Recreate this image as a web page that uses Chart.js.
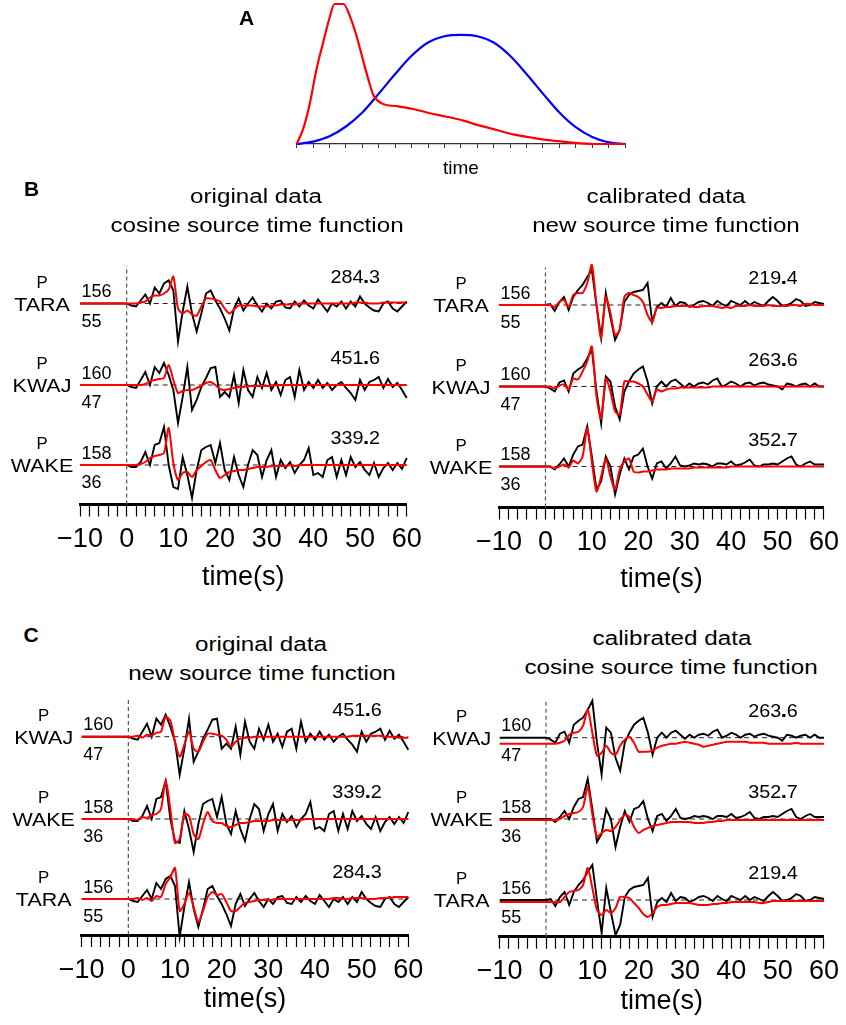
<!DOCTYPE html>
<html>
<head>
<meta charset="utf-8">
<title>Source time function and P waveform fits</title>
<script src="https://cdn.jsdelivr.net/npm/chart.js@4.4.1/dist/chart.umd.min.js"></script>
<style>
  html, body { margin:0; padding:0; background:#fff; }
  #page { position:relative; width:846px; height:1025px; overflow:hidden; background:#fff;
          font-family:"Liberation Sans", Arial, Helvetica, sans-serif; color:#000; }
  #page canvas { position:absolute; }
  .lbl { position:absolute; width:600px; text-align:center; white-space:nowrap; transform-origin:50% 0; }
</style>
</head>
<body>
<div id="page"></div>
<script>
// ---------------- DATA ----------------
// Panel A: source time functions (arbitrary time units 0..20, normalised amplitude)
const stfNewTimes = [0,0.4,0.8,1.2,1.6,2.0,2.3,2.85,3.25,3.65,4.06,4.37,4.67,5.18,6.09,7.1,8.12,9.14,10.15,11.17,12.18,13.2,14.2,15.2,16.2,17.3,18.3,20];
const stfNew      = [0,0.11,0.29,0.53,0.72,0.90,1.0,1.0,0.91,0.77,0.59,0.46,0.35,0.29,0.27,0.25,0.22,0.195,0.167,0.131,0.10,0.069,0.048,0.029,0.017,0.005,0,0];
const stfCosTimes = [0,1,2,3,4,5,6,7,8,9,10,11,12,13,14,15,16,17,18,19,20];
const stfCos      = [0,0.017,0.055,0.125,0.225,0.36,0.5,0.63,0.725,0.77,0.78,0.77,0.725,0.63,0.5,0.36,0.225,0.12,0.05,0.012,0];

// Waveforms: samples at t = 0..60 s (1 s step); trace is flat from -10 s to 0 s
const stations = ['TARA','KWAJ','WAKE'];
const upperNumbers = { TARA:'156', KWAJ:'160', WAKE:'158' };
const lowerNumbers = { TARA:'55',  KWAJ:'47',  WAKE:'36'  };
const ampOriginal   = { TARA:'284.3', KWAJ:'451.6', WAKE:'339.2' };
const ampCalibrated = { TARA:'219.4', KWAJ:'263.6', WAKE:'352.7' };

// observed, original data
const origTARA = [0,-2,-3,3,9,0,16,10,20,23, 13,-38,-8,17,-10,-28,-10,10,13,3, -5,-15,-27,-5,5,-7,0,6,-2,-8, 0,-5,2,3,-4,-5,2,-3,3,-2, -5,4,-2,-8,0,-3,2,-5,2,-3, 7,0,-4,-7,-8,0,2,-5,-8,-3,2];
const origKWAJ = [0,-2,-3,5,13,0,18,12,22,10, -5,-38,-12,18,-25,-15,-2,7,17,18, -12,-7,-12,10,-18,15,-5,-12,8,-3, 12,-5,3,-10,5,8,-12,15,-5,3, -3,5,-3,2,-5,0,3,-3,-8,-15, 5,-5,3,5,8,-3,6,-2,2,-5,-13];
const origWAKE = [0,-2,-2,3,13,0,20,22,38,0, -22,-24,8,-10,-33,-5,15,18,20,2, 22,-5,-15,8,-10,-22,0,15,10,-12, 5,15,-12,5,-3,3,-8,0,5,17, -10,-8,-12,5,8,-12,5,-10,8,-2, 3,-5,-10,2,-12,-3,2,-5,2,-4,7];
// observed, calibrated data
const calTARA = [0,1,-6,3,8,-5,8,15,20,28, 35,0,-33,12,-12,-35,-25,3,10,13, 14,15,22,-17,-2,2,-2,7,-1,3, 2,-2,0,3,4,2,-1,4,1,-1, 4,2,0,4,0,3,1,-1,4,8, 4,-1,0,2,6,4,-1,0,3,2,1];
const calKWAJ = [0,-2,-5,4,6,-5,13,17,20,28, 37,-5,-37,10,5,-20,-33,-5,5,13, 17,20,5,-17,0,5,0,5,7,3, -1,3,0,3,4,2,6,8,0,2, 5,3,0,3,4,1,3,4,2,1, 0,-3,3,2,0,2,3,0,3,0,0];
const calWAKE = [0,0,-3,2,8,0,12,20,22,40, 10,-23,-15,10,0,-28,-8,8,-3,10, 12,18,0,-12,3,5,-2,3,10,1, 0,1,3,2,3,2,0,3,3,2, 5,1,2,4,7,1,0,2,2,3, 2,5,8,10,2,0,3,5,2,2,2];

// synthetics: cosine STF vs original data (B left)
const synCosOrigTARA = [0,0,0,1,2,6,8,8,10,14, 27,-5,-10,-7,-11,-12,-3,5,5,4, 2,-5,-10,-6,-2,-2,-2,-2,-3,-3, -3,-2,-2,-1,-1,-1,-1,0,0,0, 0,0,0,0,0,0,0,0,0,1, 1,1,0,0,0,1,1,1,1,1,1];
const synCosOrigKWAJ = [0,0,0,0,1,4,5,6,7,20, 5,-8,-6,-5,-5,-3,-1,2,3,0, -4,-5,-4,-3,-2,-2,-1,-1,-1,-1, -1,-1,0,0,0,0,0,0,0,0, 0,0,0,0,0,0,0,0,0,0, 0,0,0,0,0,0,0,0,0,0,0];
const synCosOrigWAKE = [0,0,0,1,3,7,9,10,12,37, 2,-15,-8,-7,-12,-5,-1,3,5,-5, -13,-10,-7,-6,-5,-5,-4,-3,-2,-2, -2,-1,-1,-1,-1,0,-1,0,0,0, 0,0,0,0,0,0,0,0,0,0, 0,0,0,0,0,0,0,0,0,0,0];
// synthetics: new STF vs calibrated data (B right)
const synNewCalTARA = [0,0,-2,3,5,-2,10,12,12,22, 40,0,-33,8,-8,-30,-25,8,12,10, 8,3,-10,-17,-3,-3,-2,-2,-1,-1, -1,-1,-2,-2,-1,-1,-1,-2,-3,-2, -3,-1,-1,-1,0,-1,-1,-1,0,-1, -1,-1,-1,0,0,-1,1,1,0,0,0];
const synNewCalKWAJ = [0,0,-2,1,2,-3,8,7,15,25, 40,-10,-32,8,-5,-25,-28,5,5,5, 3,0,-8,-15,-3,-5,-3,-2,-2,-1, -1,-1,-1,-1,-1,-1,0,0,0,0, 0,0,0,0,0,0,0,0,0,0, 0,0,0,0,0,0,0,0,0,0,0];
const synNewCalWAKE = [0,0,-2,0,2,-1,6,3,10,38, 5,-25,-10,8,-10,-23,-3,5,8,-5, -6,-5,-5,-4,-3,-3,-3,-2,-2,-2, -2,-2,-1,-1,-1,-1,-1,-1,-1,-1, 0,0,0,0,0,0,0,0,0,0, 0,0,0,0,0,0,0,0,0,0,0];
// synthetics: new STF vs original data (C left)
const synNewOrigKWAJ = [0,0,1,-1,2,1,4,5,20,16, -5,-20,-8,5,-12,-15,-5,3,3,2, 1,-3,-10,-5,-2,-1,-1,0,0,0, 0,0,0,0,0,0,0,0,0,0, 0,0,0,0,0,0,0,0,1,1, 1,1,1,1,1,0,0,0,-1,-1,-1];
const synNewOrigWAKE = [0,0,-1,2,1,4,5,10,39,10, -24,-20,5,3,-15,-20,-5,7,-2,-4, -4,-7,-8,-6,-4,-4,-3,-2,-2,-2, -2,-1,-1,-1,-1,-1,-1,-1,0,0, 0,0,0,0,0,0,0,0,0,0, 0,0,0,0,0,0,0,0,0,0,0];
const synNewOrigTARA = [0,0,1,-1,1,-2,3,2,15,22, 31,-12,-5,6,-8,-23,-12,2,7,4, 5,-3,-12,-12,-8,-4,-3,-2,-1,-1, -1,-1,0,0,0,0,0,0,0,0, 0,0,0,0,1,1,0,0,1,1, 1,0,0,0,1,1,1,2,2,2,2];
// synthetics: cosine STF vs calibrated data (C right)
const synCosCalKWAJ = [-6,-6,-6,-5,-3,3,5,6,12,28, 5,-18,-15,-8,-15,-17,-8,-2,1,-5, -14,-14,-14,-13,-10,-8,-7,-6,-6,-5, -4,-5,-6,-7,-9,-8,-7,-6,-5,-4, -4,-4,-4,-4,-5,-5,-5,-5,-6,-6, -6,-6,-6,-6,-5,-6,-6,-6,-6,-6,-6];
const synCosCalWAKE = [-1,-1,-1,0,3,5,6,7,12,32, 5,-18,-14,-11,-12,-8,-1,4,2,-8, -14,-11,-9,-7,-6,-5,-4,-3,-3,-3, -3,-3,-4,-4,-4,-3,-3,-2,-2,-1, -1,-1,-1,-1,-1,-1,-1,-1,-1,-1, -1,-1,-1,-1,-1,-1,-1,-1,-1,-1,-1];
const synCosCalTARA = [-2,-2,-2,-2,3,8,9,10,15,32, 12,-10,-15,-10,-13,-8,3,3,2,-3, -8,-14,-17,-13,-7,-5,-5,-4,-3,-3, -3,-3,-4,-5,-5,-5,-4,-4,-3,-3, -2,-2,-2,-2,-2,-2,-3,-3,-2,-1, -1,-1,-1,-1,-1,-1,-1,-1,-1,-1,-1];

const sampleTimes = []; for (let t = 0; t <= 60; t++) sampleTimes.push(t);
const startTime = -10;

// ---------------- RENDERING ----------------
const FONT = '"Liberation Sans", Arial, Helvetica, sans-serif';
Chart.defaults.font.family = FONT;
Chart.defaults.color = '#000';
const page = document.getElementById('page');

function addText(text, cx, baseline, size, opts) {
  opts = opts || {};
  const d = document.createElement('div');
  d.className = 'lbl';
  d.textContent = text;
  d.style.fontSize = size + 'px';
  d.style.lineHeight = size + 'px';
  d.style.left = (cx - 300) + 'px';
  d.style.top = (baseline - 0.8465 * size) + 'px';
  if (opts.bold) d.style.fontWeight = 'bold';
  if (opts.sx) d.style.transform = 'scaleX(' + opts.sx + ')';
  page.appendChild(d);
}

function makeCanvas(box) {
  const c = document.createElement('canvas');
  c.width = box.width; c.height = box.height;
  c.style.left = box.left + 'px'; c.style.top = box.top + 'px';
  c.style.width = box.width + 'px'; c.style.height = box.height + 'px';
  page.appendChild(c);
  return c;
}

function drawTxt(ctx, text, x, y, size, align, sx, bold) {
  ctx.save();
  ctx.translate(x, y);
  ctx.scale(sx, 1);
  ctx.font = (bold ? 'bold ' : '') + size + 'px ' + FONT;
  ctx.fillStyle = '#000';
  ctx.textAlign = align;
  ctx.textBaseline = 'alphabetic';
  ctx.fillText(text, 0, 0);
  ctx.restore();
}

function drawAmp(ctx, text, cx, y, size, sx) {
  const parts = text.split('.');
  ctx.save();
  ctx.translate(cx, y);
  ctx.scale(sx, 1);
  ctx.fillStyle = '#000';
  ctx.textBaseline = 'alphabetic';
  ctx.textAlign = 'left';
  ctx.font = size + 'px ' + FONT;
  const w1 = ctx.measureText(parts[0]).width;
  const w3 = ctx.measureText(parts[1]).width;
  ctx.font = 'bold ' + size + 'px ' + FONT;
  const w2 = ctx.measureText('.').width;
  let x = -(w1 + w2 + w3) / 2;
  ctx.font = size + 'px ' + FONT;
  ctx.fillText(parts[0], x, 0);
  ctx.font = 'bold ' + (size + 2) + 'px ' + FONT;
  ctx.fillText('.', x + w1 - 0.5, 0);
  ctx.font = size + 'px ' + FONT;
  ctx.fillText(parts[1], x + w1 + w2, 0);
  ctx.restore();
}

function traceData(vals, offset) {
  const pts = [{ x: startTime, y: offset + vals[0] }];
  vals.forEach((v, i) => pts.push({ x: sampleTimes[i], y: offset + v }));
  return pts;
}

function waveChart(box, rows) {
  const cv = makeCanvas(box);
  const datasets = [];
  rows.forEach(r => datasets.push({
    data: traceData(r.red, r.offset), borderColor: '#ff0000', borderWidth: 2,
    pointRadius: 0, tension: 0.25, clip: false
  }));
  rows.forEach(r => datasets.push({
    data: traceData(r.black, r.offset), borderColor: '#000000', borderWidth: 1.9,
    pointRadius: 0, tension: 0, clip: false
  }));
  rows.forEach(r => datasets.push({
    data: [{ x: 0, y: r.offset }, { x: 60, y: r.offset }], borderColor: '#222',
    borderWidth: 1, borderDash: [5, 4], pointRadius: 0, clip: false
  }));
  datasets.push({
    data: [{ x: 0, y: 0 }, { x: 0, y: box.vTop }], borderColor: '#555',
    borderWidth: 1.2, borderDash: [4, 3], pointRadius: 0, clip: false
  });

  const axisH = box.top + box.height - box.chartBottom;
  const labelPlugin = {
    id: 'traceLabels',
    afterDatasetsDraw(chart) {
      const ctx = chart.ctx, xs = chart.scales.x, ys = chart.scales.y;
      const x0 = xs.getPixelForValue(-10);
      rows.forEach(r => {
        const yb = ys.getPixelForValue(r.offset);
        drawTxt(ctx, 'P', x0 - 38, yb - 15.8, 16, 'center', 1.05);
        drawTxt(ctx, r.station, x0 - 38, yb + 7.3, 19, 'center', 1.13);
        drawTxt(ctx, r.upper, x0 + 1.5, yb - 6.5, 18, 'left', 1);
        drawTxt(ctx, r.lower, x0 + 1.5, yb + 23, 18, 'left', 1);
        drawAmp(ctx, r.amp, xs.getPixelForValue(49), yb - 21, 18, 1.1);
      });
    }
  };

  new Chart(cv, {
    type: 'line',
    data: { datasets },
    plugins: [labelPlugin],
    options: {
      responsive: false, animation: false, devicePixelRatio: 1, events: [],
      layout: { padding: {
        left: box.xMinPx - box.left,
        right: box.left + box.width - box.xMaxPx,
        top: box.chartTop - box.top,
        bottom: 0 } },
      plugins: { legend: { display: false }, tooltip: { enabled: false } },
      scales: {
        x: {
          type: 'linear', min: -10, max: 60, position: 'bottom',
          afterFit: s => { s.height = axisH; },
          border: { display: true, color: '#000', width: 3 },
          grid: { display: true, drawOnChartArea: false, drawTicks: true, tickLength: 12, tickWidth: 1.2, tickColor: '#000' },
          ticks: {
            stepSize: 2, autoSkip: false, maxRotation: 0, minRotation: 0, padding: 7,
            color: '#000', font: { size: 27 },
            callback: v => { const n = Math.round(v); return n % 10 === 0 ? (n < 0 ? '\u2212' + Math.abs(n) : String(n)) : ''; }
          },
          title: { display: true, text: 'time(s)', color: '#000', font: { size: 27 }, padding: { top: 0, bottom: 0 } }
        },
        y: { type: 'linear', display: false, min: 0, max: box.chartBottom - box.chartTop }
      }
    }
  });
}

function rowsFor(order, blacks, reds, offsets, amps) {
  return order.map((s, i) => ({
    station: s, black: blacks[s], red: reds[s], offset: offsets[i],
    upper: upperNumbers[s], lower: lowerNumbers[s], amp: amps[s]
  }));
}

const origData = { TARA: origTARA, KWAJ: origKWAJ, WAKE: origWAKE };
const calData  = { TARA: calTARA,  KWAJ: calKWAJ,  WAKE: calWAKE  };
const synBL = { TARA: synCosOrigTARA, KWAJ: synCosOrigKWAJ, WAKE: synCosOrigWAKE };
const synBR = { TARA: synNewCalTARA,  KWAJ: synNewCalKWAJ,  WAKE: synNewCalWAKE  };
const synCL = { TARA: synNewOrigTARA, KWAJ: synNewOrigKWAJ, WAKE: synNewOrigWAKE };
const synCR = { TARA: synCosCalTARA,  KWAJ: synCosCalKWAJ,  WAKE: synCosCalWAKE  };
const orderB = ['TARA', 'KWAJ', 'WAKE'];
const orderC = ['KWAJ', 'WAKE', 'TARA'];

// Panel A
(function () {
  const box = { left: 280, top: 0, width: 360, height: 185 };
  const cv = makeCanvas(box);
  new Chart(cv, {
    type: 'line',
    data: { datasets: [
      { data: stfNewTimes.map((t, i) => ({ x: t, y: stfNew[i] })), borderColor: '#ff0000', borderWidth: 2.2, pointRadius: 0, cubicInterpolationMode: 'monotone', clip: false },
      { data: stfCosTimes.map((t, i) => ({ x: t, y: stfCos[i] })), borderColor: '#0000ff', borderWidth: 2.2, pointRadius: 0, cubicInterpolationMode: 'monotone', clip: false }
    ] },
    options: {
      responsive: false, animation: false, devicePixelRatio: 1, events: [],
      layout: { padding: { left: 16.7, right: 15, top: 4, bottom: 0 } },
      plugins: { legend: { display: false }, tooltip: { enabled: false } },
      scales: {
        x: {
          type: 'linear', min: 0, max: 20,
          afterFit: s => { s.height = 41; },
          border: { display: true, color: '#333', width: 1.2 },
          grid: { display: true, drawOnChartArea: false, drawTicks: true, tickLength: 4, tickWidth: 1, tickColor: '#333' },
          ticks: { stepSize: 1, autoSkip: false, maxRotation: 0, callback: () => '' },
          title: { display: true, text: 'time', color: '#000', font: { size: 19 }, padding: { top: 0, bottom: 5 } }
        },
        y: { type: 'linear', display: false, min: 0, max: 1 }
      }
    }
  });
})();

// Panel B
waveChart({ left: 0, top: 240, width: 440, height: 354, xMinPx: 80, xMaxPx: 406.7, chartTop: 250, chartBottom: 504.5, vTop: 238.5 },
  rowsFor(orderB, origData, synBL, [201, 119.5, 39.5], ampOriginal));
waveChart({ left: 423, top: 240, width: 423, height: 356, xMinPx: 499, xMaxPx: 827, chartTop: 250, chartBottom: 507.5, vTop: 240 },
  rowsFor(orderB, calData, synBR, [202.5, 121, 41], ampCalibrated));
// Panel C
waveChart({ left: 0, top: 685, width: 440, height: 331, xMinPx: 81.7, xMaxPx: 408.3, chartTop: 695, chartBottom: 935, vTop: 237 },
  rowsFor(orderC, origData, synCL, [198.3, 116, 36], ampOriginal));
waveChart({ left: 423, top: 685, width: 423, height: 333, xMinPx: 499.7, xMaxPx: 828, chartTop: 695, chartBottom: 936.7, vTop: 236.7 },
  rowsFor(orderC, calData, synCR, [199, 117.7, 36.7], ampCalibrated));

// Titles and panel letters
addText('A', 246.7, 25, 21, { bold: true });
addText('B', 31.7, 195.5, 21, { bold: true });
addText('C', 31, 642, 21, { bold: true });
addText('original data', 256, 202.7, 20, { sx: 1.21 });
addText('cosine source time function', 256.5, 231.7, 20, { sx: 1.21 });
addText('calibrated data', 666.3, 202.7, 20, { sx: 1.21 });
addText('new source time function', 666.3, 231.7, 20, { sx: 1.21 });
addText('original data', 261, 650.5, 20, { sx: 1.21 });
addText('new source time function', 261.7, 680, 20, { sx: 1.21 });
addText('calibrated data', 672, 645, 20, { sx: 1.21 });
addText('cosine source time function', 671.3, 673.5, 20, { sx: 1.21 });
</script>
</body>
</html>
